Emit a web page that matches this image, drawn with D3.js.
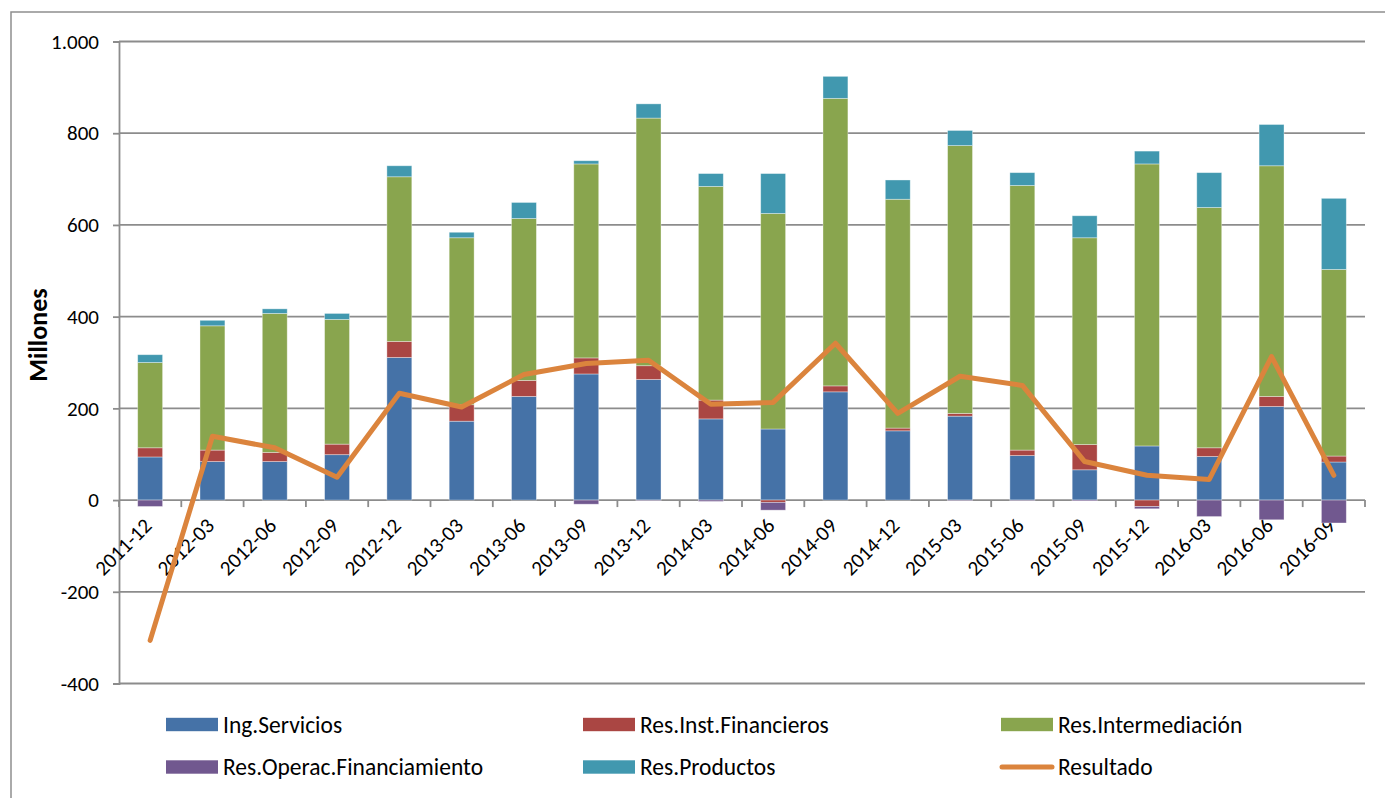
<!DOCTYPE html>
<html lang="es">
<head>
<meta charset="UTF-8">
<title>Resultado por trimestre</title>
<script src="https://d3js.org/d3.v7.min.js"></script>
<style>
    body {margin: 0; background: #fff;}
    text {font-family: Carlito, Calibri, "Open Sans", sans-serif; fill: #000;}
</style>
</head>
<body>
<script>
    // valores en millones
    const categories = ["2011-12","2012-03","2012-06","2012-09","2012-12","2013-03","2013-06","2013-09","2013-12","2014-03",
                        "2014-06","2014-09","2014-12","2015-03","2015-06","2015-09","2015-12","2016-03","2016-06","2016-09"];
    const ingServicios   = [94, 84, 84, 99, 311, 172, 226, 275, 263, 177, 155, 236, 151, 183, 97, 66, 118, 95, 204, 83];
    const resInstFin     = [20, 25, 20, 23, 35, 36, 35, 35, 30, 41, -5, 13, 6, 6, 12, 55, -14, 19, 22, 13];
    const resInterm      = [186, 271, 303, 272, 359, 364, 353, 423, 540, 466, 470, 627, 499, 584, 577, 451, 615, 524, 503, 407];
    const resOperacFin   = [-14, 0, 0, 0, 0, 0, 0, -9, -1, -3, -17, 0, 0, -1, -1, -2, -5, -36, -43, -50];
    const resProductos   = [17, 12, 10, 13, 24, 12, 35, 7, 31, 28, 87, 48, 42, 33, 28, 48, 28, 76, 90, 155];
    const resultado      = [-306, 139, 114, 50, 233, 203, 274, 298, 305, 209, 213, 342, 189, 270, 250, 84, 54, 45, 313, 54];
    const yTicks = [-400, -200, 0, 200, 400, 600, 800, 1000];

    const series = [
        {key: "Ing.Servicios", values: ingServicios, color: "#4572A7"},
        {key: "Res.Inst.Financieros", values: resInstFin, color: "#AA4643"},
        {key: "Res.Intermediación", values: resInterm, color: "#89A54E"},
        {key: "Res.Operac.Financiamiento", values: resOperacFin, color: "#71588F"},
        {key: "Res.Productos", values: resProductos, color: "#4198AF"}
    ];
    const lineColor = "#DB843D";

    const width = 1385, height = 798;
    const plot = {left: 119, right: 1365, top: 41.5, bottom: 683.5};
    const gridColor = "#8c8c8c";
    const axisFont = 21;
    const legendFont = 23.5;

    const svg = d3.select("body").append("svg")
        .attr("width", width).attr("height", height);

    // marco exterior del grafico
    svg.append("rect")
        .attr("x", 11).attr("y", 12)
        .attr("width", width + 20).attr("height", height + 20)
        .attr("fill", "none").attr("stroke", "#8e8e8e").attr("stroke-width", 1.5);

    const x = d3.scaleBand().domain(categories)
        .range([plot.left, plot.right]).paddingInner(0.6).paddingOuter(0.3);
    const y = d3.scaleLinear().domain([-400, 1000]).range([plot.bottom, plot.top]);

    const fmt = d3.formatLocale({decimal: ",", thousands: ".", grouping: [3], currency: ["", ""], minus: "-"}).format(",d");

    // rejilla + eje y
    const yAxis = svg.append("g")
        .attr("transform", `translate(${plot.left},0)`)
        .call(d3.axisLeft(y).tickValues(yTicks).tickSize(6).tickPadding(14).tickFormat(fmt));
    yAxis.select(".domain").attr("stroke", gridColor).attr("stroke-width", 1.8);
    yAxis.selectAll(".tick line").attr("stroke", gridColor).attr("stroke-width", 1.8);
    yAxis.selectAll(".tick text")
        .attr("font-size", axisFont).attr("fill", "#000")
        .style("font-family", 'Carlito, Calibri, "Open Sans", sans-serif');

    svg.append("g").selectAll("line")
        .data(yTicks.filter(d => d !== 0))
        .join("line")
        .attr("x1", plot.left).attr("x2", plot.right)
        .attr("y1", d => y(d)).attr("y2", d => y(d))
        .attr("stroke", gridColor).attr("stroke-width", 1.8);

    // eje de categorias en cero
    const xAxis = svg.append("g")
        .attr("transform", `translate(0,${y(0)})`);
    xAxis.append("line")
        .attr("x1", plot.left).attr("x2", plot.right)
        .attr("stroke", gridColor).attr("stroke-width", 1.8);
    const step = x.step();
    xAxis.selectAll("line.tk")
        .data(d3.range(categories.length + 1))
        .join("line").attr("class", "tk")
        .attr("x1", i => plot.left + i * step).attr("x2", i => plot.left + i * step)
        .attr("y1", 0).attr("y2", 7)
        .attr("stroke", gridColor).attr("stroke-width", 1.8);

    // barras apiladas
    const rows = categories.map((c, i) => {
        const r = {cat: c};
        series.forEach(s => r[s.key] = s.values[i]);
        return r;
    });
    const stacked = d3.stack()
        .keys(series.map(s => s.key))
        .offset(d3.stackOffsetDiverging)(rows);

    svg.append("g").selectAll("g")
        .data(stacked)
        .join("g")
        .attr("fill", (d, i) => series[i].color)
        .selectAll("rect")
        .data(d => d)
        .join("rect")
        .attr("x", d => x(d.data.cat))
        .attr("width", x.bandwidth())
        .attr("y", d => y(Math.max(d[0], d[1])))
        .attr("height", d => Math.abs(y(d[0]) - y(d[1])))
        .attr("stroke", "rgba(255,255,255,0.45)")
        .attr("stroke-width", 0.8);

    xAxis.selectAll("text")
        .data(categories)
        .join("text")
        .attr("transform", d => `translate(${x(d) + x.bandwidth() / 2 + 3},${27}) rotate(-45)`)
        .attr("text-anchor", "end")
        .attr("font-size", axisFont)
        .text(d => d);

    // linea de resultado
    const line = d3.line()
        .x((d, i) => x(categories[i]) + x.bandwidth() / 2)
        .y(d => y(d));
    svg.append("path")
        .datum(resultado)
        .attr("d", line)
        .attr("fill", "none")
        .attr("stroke", lineColor)
        .attr("stroke-width", 5)
        .attr("stroke-linejoin", "round")
        .attr("stroke-linecap", "round");

    // titulo eje y
    svg.append("text")
        .attr("transform", "translate(47,335) rotate(-90)")
        .attr("text-anchor", "middle")
        .attr("font-size", 26)
        .attr("font-weight", "bold")
        .text("Millones");

    // leyenda
    const legendItems = [
        {key: "Ing.Servicios", color: series[0].color, type: "rect"},
        {key: "Res.Inst.Financieros", color: series[1].color, type: "rect"},
        {key: "Res.Intermediación", color: series[2].color, type: "rect"},
        {key: "Res.Operac.Financiamiento", color: series[3].color, type: "rect"},
        {key: "Res.Productos", color: series[4].color, type: "rect"},
        {key: "Resultado", color: lineColor, type: "line"}
    ];
    const colX = [166, 583, 1001];
    const rowY = [724.5, 767];
    const legend = svg.append("g").selectAll("g")
        .data(legendItems)
        .join("g")
        .attr("transform", (d, i) => `translate(${colX[i % 3]},${rowY[Math.floor(i / 3)]})`);
    legend.filter(d => d.type === "rect").append("rect")
        .attr("x", 0).attr("y", -6.7).attr("width", 52).attr("height", 13.4)
        .attr("fill", d => d.color);
    legend.filter(d => d.type === "line").append("line")
        .attr("x1", 1).attr("x2", 51).attr("y1", 0).attr("y2", 0)
        .attr("stroke", d => d.color).attr("stroke-width", 5).attr("stroke-linecap", "round");
    legend.append("text")
        .attr("x", 57).attr("y", 0).attr("dy", "0.35em")
        .attr("font-size", legendFont)
        .text(d => d.key);
</script>
</body>
</html>
